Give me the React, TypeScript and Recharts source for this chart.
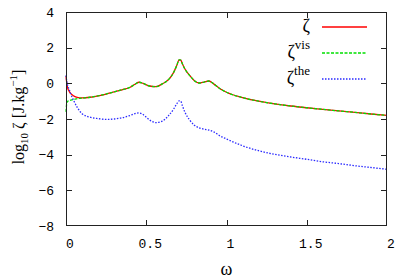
import React from 'react';
import { LineChart, Line, XAxis, YAxis } from 'recharts';

const omega = [0, 0.005, 0.01, 0.02, 0.03, 0.05, 0.07, 0.1, 0.15, 0.2, 0.25, 0.3, 0.35, 0.4, 0.43, 0.455, 0.48, 0.52, 0.56, 0.6, 0.64, 0.67, 0.69, 0.705, 0.715, 0.725, 0.74, 0.77, 0.8, 0.83, 0.86, 0.89, 0.92, 0.96, 1.0, 1.1, 1.2, 1.3, 1.4, 1.5, 1.6, 1.7, 1.8, 1.9, 2.0];
const zeta = [0.4, 0.0, -0.25, -0.45, -0.58, -0.72, -0.79, -0.82, -0.78, -0.7, -0.6, -0.48, -0.36, -0.22, -0.05, 0.06, 0.0, -0.15, -0.19, -0.03, 0.22, 0.6, 1.0, 1.32, 1.3, 1.1, 0.82, 0.45, 0.15, 0.02, 0.07, 0.13, -0.03, -0.3, -0.5, -0.8, -1.0, -1.15, -1.27, -1.37, -1.46, -1.55, -1.63, -1.72, -1.8];
const zetaVis = [-1.6, -1.1, -1.0, -0.97, -0.94, -0.9, -0.86, -0.83, -0.78, -0.7, -0.6, -0.48, -0.36, -0.22, -0.05, 0.06, 0.0, -0.15, -0.19, -0.03, 0.22, 0.6, 1.0, 1.32, 1.3, 1.1, 0.82, 0.45, 0.15, 0.02, 0.07, 0.13, -0.03, -0.3, -0.5, -0.8, -1.0, -1.15, -1.27, -1.37, -1.46, -1.55, -1.63, -1.72, -1.8];
const zetaThe = [0.45, 0.1, -0.1, -0.35, -0.6, -1.0, -1.35, -1.7, -1.9, -1.98, -2.02, -2.0, -1.93, -1.8, -1.7, -1.66, -1.75, -2.05, -2.2, -2.12, -1.8, -1.45, -1.15, -0.98, -1.0, -1.25, -1.6, -2.05, -2.35, -2.5, -2.57, -2.62, -2.72, -2.95, -3.12, -3.5, -3.78, -3.98, -4.13, -4.26, -4.4, -4.5, -4.62, -4.72, -4.82];

const xTicks = [0, 0.5, 1, 1.5, 2];
const yTicks = [-8, -6, -4, -2, 0, 2, 4];
const X_DOMAIN = [0, 2];
const Y_DOMAIN = [-8, 4];

const series = [
  { key: 'zeta', base: 'ζ', sup: '', color: '#ff0000', dash: undefined as string | undefined },
  { key: 'vis', base: 'ζ', sup: 'vis', color: '#00e000', dash: '3 1.5' },
  { key: 'the', base: 'ζ', sup: 'the', color: '#2a2aff', dash: '1.5 1.5' },
];

const data = omega.map((w, i) => ({ w, zeta: zeta[i], vis: zetaVis[i], the: zetaThe[i] }));

// layout
const W = 399;
const H = 280;
const MARGIN_TOP = 12;
const MARGIN_RIGHT = 12;
const Y_AXIS_W = 66;
const X_AXIS_H = 54;
const PL = Y_AXIS_W;
const PR = W - MARGIN_RIGHT;
const PT = MARGIN_TOP;
const PB = H - X_AXIS_H;
const TICK = 6;

const AXIS = '#222';
const MONO = 'Liberation Mono, DejaVu Sans Mono, monospace';
const SERIF = "'Liberation Serif', serif";

const fmt = (v: number) => (v < 0 ? '\u2212' + String(-v) : String(v));
const sx = (v: number) => PL + ((v - X_DOMAIN[0]) / (X_DOMAIN[1] - X_DOMAIN[0])) * (PR - PL);
const sy = (v: number) => PB - ((v - Y_DOMAIN[0]) / (Y_DOMAIN[1] - Y_DOMAIN[0])) * (PB - PT);

const LeftTick = (p: any) => (
  <text x={p.x - 12} y={p.y + 4.5} textAnchor="end" fontFamily={MONO} fontSize={13} fill="#000">{fmt(p.payload.value)}</text>
);
const BottomTick = (p: any) => (
  <text x={p.x + 4} y={p.y + 22} textAnchor="middle" fontFamily={MONO} fontSize={13} fill="#000">{String(p.payload.value)}</text>
);

const tickDiv = (left: number, top: number, w: number, h: number, key: string) => (
  <div key={key} style={{ position: 'absolute', left, top, width: w, height: h, background: AXIS }} />
);

const Frame = () => (
  <div style={{ position: 'absolute', left: 0, top: 0, width: W, height: H, pointerEvents: 'none' }}>
    <div style={{ position: 'absolute', left: PL, top: PT, width: PR - PL, height: PB - PT, boxSizing: 'border-box', border: `1px solid ${AXIS}` }} />
    {xTicks.map((t) => tickDiv(Math.round(sx(t)) - (t === X_DOMAIN[1] ? 1 : 0), PB - TICK, 1, TICK, 'xb' + t))}
    {xTicks.map((t) => tickDiv(Math.round(sx(t)) - (t === X_DOMAIN[1] ? 1 : 0), PT, 1, TICK, 'xt' + t))}
    {yTicks.map((t) => tickDiv(PL, Math.round(sy(t)) - (t === Y_DOMAIN[0] ? 1 : 0), TICK, 1, 'yl' + t))}
    {yTicks.map((t) => tickDiv(PR - TICK, Math.round(sy(t)) - (t === Y_DOMAIN[0] ? 1 : 0), TICK, 1, 'yr' + t))}
  </div>
);

const Overlay = () => (
  <svg width={W} height={H} style={{ position: 'absolute', left: 0, top: 0, pointerEvents: 'none' }}>
    {series.map((s, i) => {
      const y = 27 + i * 26;
      return (
        <g key={s.key}>
          <text x={310} y={y + 5} textAnchor="end" fontFamily={SERIF} fontSize={18} fill="#000">
            {s.base}
            {s.sup ? <tspan fontSize={13} dy={-9}>{s.sup}</tspan> : null}
          </text>
          <line x1={322} x2={367} y1={y} y2={y} stroke={s.color} strokeWidth={1.3} strokeDasharray={s.dash} />
        </g>
      );
    })}
    <text transform="translate(24,117) rotate(-90)" textAnchor="middle" fontFamily={SERIF} fontSize={16} fill="#000">
      log<tspan fontSize={11} dy={4}>10</tspan><tspan dy={-4}> ζ [J.kg</tspan><tspan fontSize={11} dy={-7}>{'\u22121'}</tspan><tspan dy={7}>]</tspan>
    </text>
  </svg>
);

export default function App() {
  return (
    <div style={{ position: 'absolute', left: 0, top: 0, width: W, height: H }}>
      <LineChart width={W} height={H} data={data} margin={{ top: MARGIN_TOP, right: MARGIN_RIGHT, bottom: 0, left: 0 }}>
        <XAxis dataKey="w" type="number" domain={X_DOMAIN} ticks={xTicks} height={X_AXIS_H} tickSize={0} tickMargin={0}
          tick={<BottomTick />} axisLine={false} tickLine={false}
          label={{ value: 'ω', position: 'insideBottom', offset: 5, style: { fontFamily: SERIF, fontSize: 18, fill: '#000' } }} />
        <YAxis type="number" domain={Y_DOMAIN} ticks={yTicks} width={Y_AXIS_W} tickSize={0} tickMargin={0}
          tick={<LeftTick />} axisLine={false} tickLine={false} />
        {series.map((s) => (
          <Line key={s.key} dataKey={s.key} type="monotoneX" stroke={s.color} strokeWidth={1.3}
            strokeDasharray={s.dash} dot={false} isAnimationActive={false} />
        ))}
      </LineChart>
      <Frame />
      <Overlay />
    </div>
  );
}
